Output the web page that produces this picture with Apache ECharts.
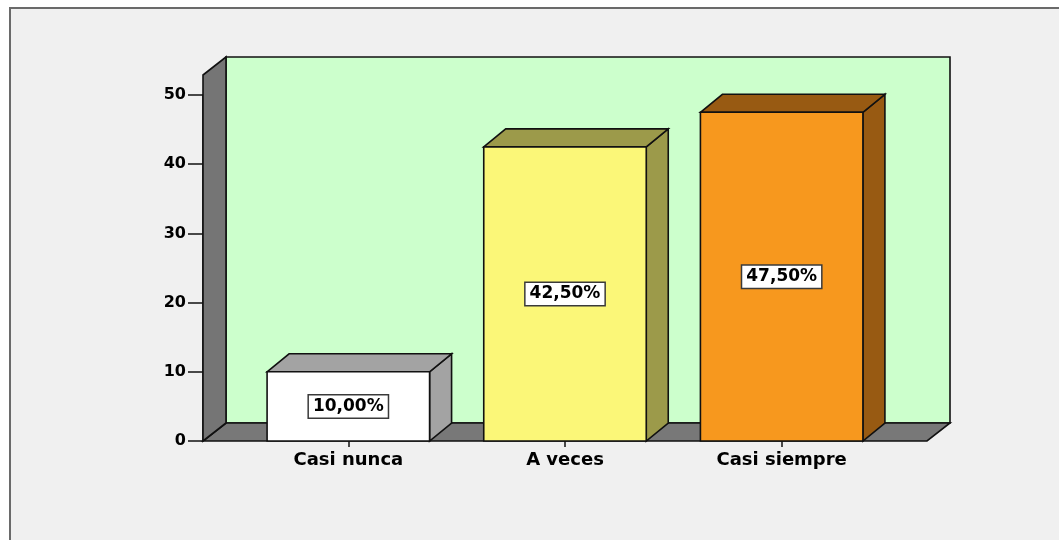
<!DOCTYPE html>
<html>
<head>
<meta charset="utf-8">
<script src="https://cdn.jsdelivr.net/npm/echarts@6/dist/echarts.min.js"></script>
<style>
  html, body { margin: 0; padding: 0; background: #ffffff; }
  #chart { width: 1059px; height: 540px; }
</style>
</head>
<body>
<div id="chart"></div>
<script>
// Response categories and their share of answers (percent)
const categories = ['Casi nunca', 'A veces', 'Casi siempre'];
const percentages = [10, 42.5, 47.5];
// Value-axis tick labels
const yTickValues = [0, 10, 20, 30, 40, 50];

// Bar face colours (front) and shaded colours (top / side)
const frontColors = ['#ffffff', '#fbf778', '#f7981e'];
const shadeColors = ['#a3a3a3', '#9c9a4a', '#985a12'];

const FONT = 'DejaVu Sans, Liberation Sans, Arial, sans-serif';
const EDGE = '#111111';
const EDGE_W = 1.6;
const DEPTH_X = 22;   // oblique depth of the 3-D boxes
const DEPTH_Y = -18;
const WALL_DX = 23;
const FLOOR_PAD = 37; // floor runs past the category band on both sides
const WALL_RISE = 20; // side wall rises above the top tick

function fmtPercent(v) {
  return v.toFixed(2).replace('.', ',') + '%';
}

const chart = echarts.init(document.getElementById('chart'), null, { renderer: 'canvas' });

const option = {
  backgroundColor: '#ffffff',
  animation: false,
  graphic: [{
    type: 'rect',
    z: -10,
    silent: true,
    shape: { x: 10, y: 8, width: 1200, height: 700 },
    style: { fill: '#f0f0f0', stroke: '#6a6a6a', lineWidth: 2 }
  }],
  grid: { left: 240, right: 169, top: 95, bottom: 99, containLabel: false },
  xAxis: {
    type: 'category',
    data: categories,
    axisLine: { show: false },
    axisTick: { show: true, alignWithLabel: true, length: 6, lineStyle: { color: '#111', width: 1.5 } },
    axisLabel: { margin: 10, color: '#000', fontFamily: FONT, fontWeight: 'bold', fontSize: 18 },
    splitLine: { show: false }
  },
  yAxis: {
    type: 'value',
    min: yTickValues[0],
    max: yTickValues[yTickValues.length - 1],
    interval: yTickValues[1] - yTickValues[0],
    offset: FLOOR_PAD,
    axisLine: { show: true, lineStyle: { color: EDGE, width: EDGE_W } },
    axisTick: { show: true, length: 15, lineStyle: { color: '#111', width: 1.5 } },
    axisLabel: { margin: 17, color: '#000', fontFamily: FONT, fontWeight: 'bold', fontSize: 16 },
    splitLine: { show: false }
  },
  series: [
    {
      // Floor, side wall and back wall of the 3-D plot box
      type: 'custom',
      z: 1,
      silent: true,
      data: [[0, 0]],
      renderItem: function (params, api) {
        const cs = params.coordSys;
        const yb = api.coord([0, yTickValues[0]])[1];
        const wt = api.coord([0, yTickValues[yTickValues.length - 1]])[1] - WALL_RISE;
        const fl = cs.x - FLOOR_PAD;
        const fr = cs.x + cs.width + FLOOR_PAD;
        const dx = WALL_DX, dy = DEPTH_Y;
        const st = { stroke: EDGE, lineWidth: EDGE_W };
        return {
          type: 'group',
          children: [
            {
              type: 'rect',
              shape: { x: fl + dx, y: wt + dy, width: fr - fl, height: yb - wt },
              style: Object.assign({ fill: '#ccffcc' }, st)
            },
            {
              type: 'polygon',
              shape: { points: [[fl, yb], [fr, yb], [fr + dx, yb + dy], [fl + dx, yb + dy]] },
              style: Object.assign({ fill: '#787878' }, st)
            },
            {
              type: 'polygon',
              shape: { points: [[fl, yb], [fl, wt], [fl + dx, wt + dy], [fl + dx, yb + dy]] },
              style: Object.assign({ fill: '#757575' }, st)
            }
          ]
        };
      }
    },
    {
      // 3-D bars with value labels
      type: 'custom',
      z: 3,
      data: percentages.map(function (v, i) { return [i, v]; }),
      renderItem: function (params, api) {
        const i = api.value(0);
        const v = api.value(1);
        const top = api.coord([i, v]);
        const yb = api.coord([i, 0])[1];
        const w = api.size([1, 0])[0] * 0.75;
        const cx = top[0];
        const yt = top[1];
        const xl = cx - w / 2, xr = cx + w / 2;
        const dx = DEPTH_X, dy = DEPTH_Y;
        const st = { stroke: EDGE, lineWidth: EDGE_W };
        return {
          type: 'group',
          children: [
            {
              type: 'polygon',
              shape: { points: [[xr, yt], [xr + dx, yt + dy], [xr + dx, yb + dy], [xr, yb]] },
              style: Object.assign({ fill: shadeColors[i] }, st)
            },
            {
              type: 'polygon',
              shape: { points: [[xl, yt], [xl + dx, yt + dy], [xr + dx, yt + dy], [xr, yt]] },
              style: Object.assign({ fill: shadeColors[i] }, st)
            },
            {
              type: 'rect',
              shape: { x: xl, y: yt, width: w, height: yb - yt },
              style: Object.assign({ fill: frontColors[i] }, st)
            },
            {
              type: 'text',
              x: cx,
              y: (yt + yb) / 2,
              style: {
                text: fmtPercent(v),
                fill: '#000',
                font: 'bold 17px ' + FONT,
                align: 'center',
                verticalAlign: 'middle',
                backgroundColor: '#ffffff',
                borderColor: '#3a3a3a',
                borderWidth: 1.5,
                padding: [3, 4, 2, 4]
              }
            }
          ]
        };
      }
    }
  ]
};

chart.setOption(option);
</script>
</body>
</html>
